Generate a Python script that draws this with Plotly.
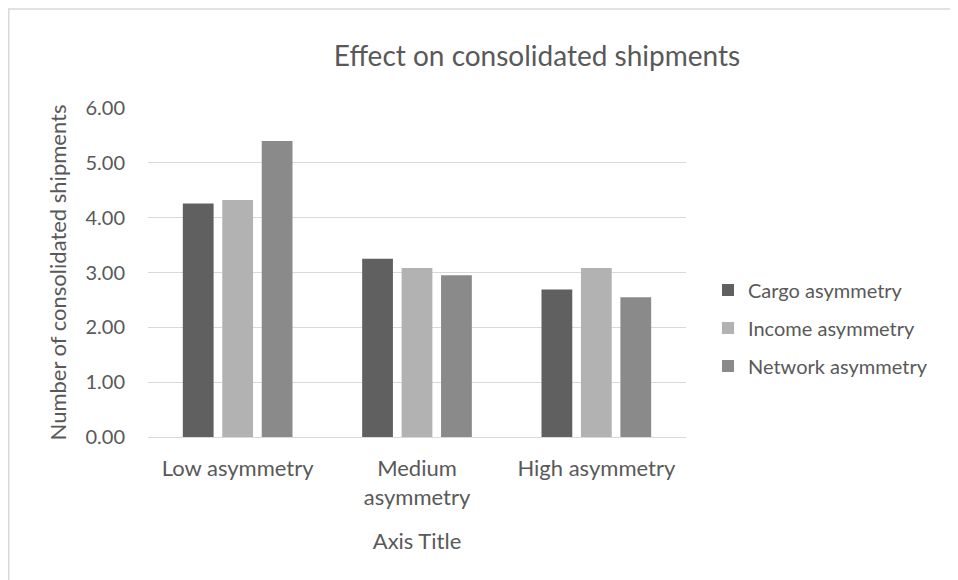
import plotly.graph_objects as go

# Chart data
categories = ['Low asymmetry', 'Medium<br>asymmetry', 'High asymmetry']
cargo_asymmetry = [4.26, 3.25, 2.69]
income_asymmetry = [4.32, 3.08, 3.08]
network_asymmetry = [5.40, 2.95, 2.55]
y_ticks = [0, 1, 2, 3, 4, 5, 6]

FONT = 'Lato'
TEXT_COLOR = '#595959'
GRID_COLOR = '#d9d9d9'

W, H = 958, 580
# plot area (figure px): x 140..678, y 100..429
M_L, M_R, M_T, M_B = 140, 280, 100, 151


def px_to_paper_x(px):
    return (px - M_L) / (W - M_L - M_R)


def px_to_paper_y(py):
    return (H - M_B - py) / (H - M_T - M_B)


def create_shipments_chart():
    """Grouped bar chart of consolidated shipments per asymmetry level"""
    fig = go.Figure()

    series = [
        ('Cargo asymmetry', cargo_asymmetry, '#606060'),
        ('Income asymmetry', income_asymmetry, '#b2b2b2'),
        ('Network asymmetry', network_asymmetry, '#8a8a8a'),
    ]
    for name, values, color in series:
        fig.add_trace(go.Bar(
            x=categories,
            y=values,
            name=name,
            legendgroup=name,
            marker=dict(color=color, line=dict(width=0)),
        ))

    fig.update_layout(
        width=W,
        height=H,
        margin=dict(l=M_L, r=M_R, t=M_T, b=M_B, autoexpand=False),
        paper_bgcolor='white',
        plot_bgcolor='white',
        font=dict(family=FONT, color=TEXT_COLOR, size=20),
        barmode='group',
        bargap=0.34,
        bargroupgap=0.22,
        title=dict(
            text='Effect on consolidated shipments',
            font=dict(size=28, color=TEXT_COLOR, family=FONT),
            x=529 / W,
            xanchor='center',
            y=1 - 48 / H,
            yanchor='middle',
            xref='container',
            yref='container',
        ),
        legend=dict(
            x=px_to_paper_x(700),
            y=px_to_paper_y(320),
            xanchor='left',
            yanchor='middle',
            font=dict(size=20, color=TEXT_COLOR),
            tracegroupgap=9,
            bgcolor='rgba(0,0,0,0)',
        ),
        showlegend=True,
    )

    fig.update_xaxes(
        showgrid=False,
        showline=True,
        linecolor=GRID_COLOR,
        linewidth=1,
        ticks='',
        ticklabelstandoff=12,
        tickfont=dict(size=22, color=TEXT_COLOR),
        title=dict(text='Axis Title', font=dict(size=22, color=TEXT_COLOR), standoff=24),
    )

    fig.update_yaxes(
        range=[0, 6],
        tickvals=y_ticks,
        tickformat='.2f',
        showgrid=True,
        gridcolor=GRID_COLOR,
        gridwidth=1,
        zeroline=False,
        showline=False,
        ticks='',
        ticklabelstandoff=22,
        tickfont=dict(size=20, color=TEXT_COLOR),
        title=dict(text='Number of consolidated shipments', font=dict(size=22, color=TEXT_COLOR), standoff=12),
    )

    # Chart area border (Excel style), cropped off on the right/bottom
    fig.add_shape(
        type='rect',
        xref='paper', yref='paper',
        x0=px_to_paper_x(0.75), x1=px_to_paper_x(W + 20),
        y0=px_to_paper_y(H + 20), y1=px_to_paper_y(1),
        line=dict(color=GRID_COLOR, width=1.5),
        fillcolor='rgba(0,0,0,0)',
        layer='below',
    )

    return fig


fig = create_shipments_chart()
fig.write_html("out.html")
